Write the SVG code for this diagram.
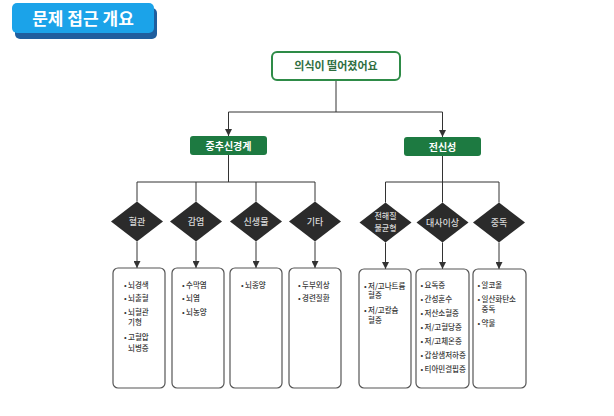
<svg xmlns="http://www.w3.org/2000/svg" width="614" height="416" viewBox="0 0 614 416">
<defs>
<marker id="arr" viewBox="0 0 10 10" refX="10" refY="5" markerWidth="7" markerHeight="7" markerUnits="userSpaceOnUse" orient="auto">
<path d="M0,0 L10,5 L0,10 z" fill="#333"/>
</marker>
<style>
text{font-family:"Noto Sans CJK KR","Noto Sans",sans-serif;}
.title{font-size:17px;font-weight:700;fill:#fff;}
.root{fill:#fff;stroke:#2e8b47;stroke-width:2;}
.roott{font-size:11px;font-weight:700;fill:#2f6e3f;text-anchor:middle;}
.gbox{fill:#1d7a41;}
.gt{font-size:10px;font-weight:700;fill:#fff;text-anchor:middle;}
.dia{fill:#2b2b2b;}
.dt{font-size:9px;font-weight:500;fill:#d8d8d8;text-anchor:middle;}
.dt2{font-size:8px;font-weight:500;fill:#d8d8d8;text-anchor:middle;}
.box{fill:#fff;stroke:#555;stroke-width:1.2;}
.it{font-size:7.5px;font-weight:500;fill:#383838;}
.ln{fill:none;stroke:#333;stroke-width:1;}
</style>
</defs>
<rect width="614" height="416" fill="#fff"/>

<g id="title">
<rect x="15" y="8" width="142" height="31" rx="5" fill="#1f5e9e"/>
<rect x="12" y="3" width="142" height="30" rx="5" fill="#1ba3e9"/>
<text class="title" x="83" y="24.5" text-anchor="middle">문제 접근 개요</text>
</g>

<g id="connectors">
<path class="ln" d="M336 80 V112 M228.5 112 H442.5"/>
<path class="ln" d="M228.5 112 V136" marker-end="url(#arr)"/>
<path class="ln" d="M442.5 112 V137" marker-end="url(#arr)"/>
<path class="ln" d="M228.5 155 V182 M137 182 H315 M137 182 V201.5 M196 182 V201.5 M256 182 V201.5 M315 182 V201.5"/>
<path class="ln" d="M442.5 156 V182 M385.5 182 H499 M385.5 182 V202.5 M442.5 182 V202.5 M499 182 V202.5"/>
<path class="ln" d="M137 241.5 V268" marker-end="url(#arr)"/>
<path class="ln" d="M196 241.5 V268" marker-end="url(#arr)"/>
<path class="ln" d="M256 241.5 V268" marker-end="url(#arr)"/>
<path class="ln" d="M315 241.5 V268" marker-end="url(#arr)"/>
<path class="ln" d="M385.5 242.5 V269" marker-end="url(#arr)"/>
<path class="ln" d="M442.5 242.5 V269" marker-end="url(#arr)"/>
<path class="ln" d="M499 242.5 V269" marker-end="url(#arr)"/>
</g>

<g id="root">
<rect class="root" x="272" y="52" width="128" height="28" rx="5"/>
<text class="roott" x="336" y="70">의식이 떨어졌어요</text>
</g>

<g id="cns">
<rect class="gbox" x="190" y="136" width="77" height="19" rx="3"/>
<text class="gt" x="228.5" y="149.5">중추신경계</text>
</g>
<g id="systemic">
<rect class="gbox" x="404" y="137" width="77" height="19" rx="3"/>
<text class="gt" x="442.5" y="150.5">전신성</text>
</g>

<g id="d-vascular">
<polygon class="dia" points="137,201.5 163,221.5 137,241.5 111,221.5"/>
<text class="dt" x="137" y="224.5">혈관</text>
</g>
<g id="d-infection">
<polygon class="dia" points="196,201.5 222,221.5 196,241.5 170,221.5"/>
<text class="dt" x="196" y="224.5">감염</text>
</g>
<g id="d-neoplasm">
<polygon class="dia" points="256,201.5 282,221.5 256,241.5 230,221.5"/>
<text class="dt" x="256" y="224.5">신생물</text>
</g>
<g id="d-etc">
<polygon class="dia" points="315,201.5 341,221.5 315,241.5 289,221.5"/>
<text class="dt" x="315" y="224.5">기타</text>
</g>
<g id="d-electrolyte">
<polygon class="dia" points="385.5,202.5 411.5,222.5 385.5,242.5 359.5,222.5"/>
<text class="dt2" x="385.5" y="219">전해질</text>
<text class="dt2" x="385.5" y="231">불균형</text>
</g>
<g id="d-metabolic">
<polygon class="dia" points="442.5,202.5 468.5,222.5 442.5,242.5 416.5,222.5"/>
<text class="dt" x="442.5" y="225.5">대사이상</text>
</g>
<g id="d-toxic">
<polygon class="dia" points="499,202.5 525,222.5 499,242.5 473,222.5"/>
<text class="dt" x="499" y="225.5">중독</text>
</g>

<g id="b-vascular">
<rect class="box" x="113" y="268" width="52" height="120" rx="5"/>
<text class="it" x="124" y="288">•</text><text class="it" x="128" y="288">뇌경색</text>
<text class="it" x="124" y="301">•</text><text class="it" x="128" y="301">뇌출혈</text>
<text class="it" x="124" y="314.5">•</text><text class="it" x="128" y="314.5">뇌혈관</text>
<text class="it" x="128" y="324.5">기형</text>
<text class="it" x="124" y="339.5">•</text><text class="it" x="128" y="339.5">고혈압</text>
<text class="it" x="128" y="351">뇌병증</text>
</g>
<g id="b-infection">
<rect class="box" x="172" y="268" width="52" height="120" rx="5"/>
<text class="it" x="182" y="288">•</text><text class="it" x="186" y="288">수막염</text>
<text class="it" x="182" y="301">•</text><text class="it" x="186" y="301">뇌염</text>
<text class="it" x="182" y="314.5">•</text><text class="it" x="186" y="314.5">뇌농양</text>
</g>
<g id="b-neoplasm">
<rect class="box" x="230" y="268" width="52" height="120" rx="5"/>
<text class="it" x="241" y="288">•</text><text class="it" x="245" y="288">뇌종양</text>
</g>
<g id="b-etc">
<rect class="box" x="289" y="268" width="52" height="120" rx="5"/>
<text class="it" x="298" y="288">•</text><text class="it" x="302" y="288">두부외상</text>
<text class="it" x="298" y="301">•</text><text class="it" x="302" y="301">경련질환</text>
</g>
<g id="b-electrolyte">
<rect class="box" x="359" y="269" width="52" height="119" rx="5"/>
<text class="it" x="364" y="288.5">•</text><text class="it" x="368" y="288.5">저/고나트륨</text>
<text class="it" x="368" y="298">혈증</text>
<text class="it" x="364" y="313">•</text><text class="it" x="368" y="313">저/고칼슘</text>
<text class="it" x="368" y="323">혈증</text>
</g>
<g id="b-metabolic">
<rect class="box" x="416" y="269" width="53" height="119" rx="5"/>
<text class="it" x="420.5" y="288">•</text><text class="it" x="424.5" y="288">요독증</text>
<text class="it" x="420.5" y="301.5">•</text><text class="it" x="424.5" y="301.5">간성혼수</text>
<text class="it" x="420.5" y="315.5">•</text><text class="it" x="424.5" y="315.5">저산소혈증</text>
<text class="it" x="420.5" y="329.5">•</text><text class="it" x="424.5" y="329.5">저/고혈당증</text>
<text class="it" x="420.5" y="343.5">•</text><text class="it" x="424.5" y="343.5">저/고체온증</text>
<text class="it" x="420.5" y="358">•</text><text class="it" x="424.5" y="358">갑상샘저하증</text>
<text class="it" x="420.5" y="372">•</text><text class="it" x="424.5" y="372">티아민결핍증</text>
</g>
<g id="b-toxic">
<rect class="box" x="473" y="269" width="53" height="119" rx="5"/>
<text class="it" x="477.5" y="288">•</text><text class="it" x="481.5" y="288">알코올</text>
<text class="it" x="477.5" y="302">•</text><text class="it" x="481.5" y="302">일산화탄소</text>
<text class="it" x="481.5" y="312">중독</text>
<text class="it" x="477.5" y="326">•</text><text class="it" x="481.5" y="326">약물</text>
</g>
</svg>
